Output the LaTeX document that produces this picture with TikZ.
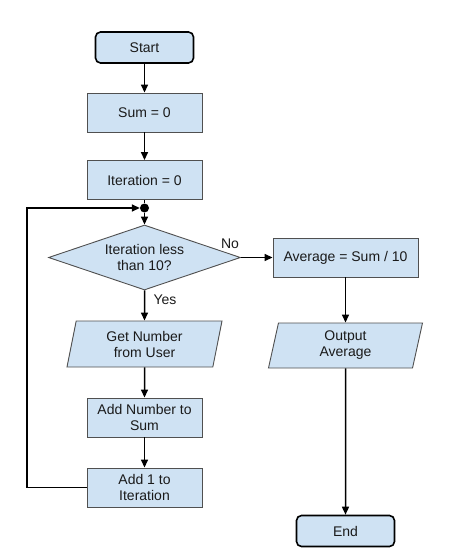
\documentclass[tikz,border=0pt]{standalone}
\usepackage{fontspec}
\setmainfont{Liberation Sans}
\usetikzlibrary{shapes.geometric,arrows.meta}
\definecolor{boxfill}{HTML}{CFE2F3}
\definecolor{boxline}{HTML}{505050}
\definecolor{txt}{HTML}{1A1A1A}
\begin{document}
\begin{tikzpicture}[x=1pt,y=-1pt,
  font=\fontsize{14}{16}\selectfont, text=txt,
  proc/.style={draw=boxline, fill=boxfill, minimum width=115pt, minimum height=39pt, inner sep=1pt, align=center, line width=0.9pt},
  term/.style={draw=black, fill=boxfill, rounded corners=5pt, line width=1.6pt, minimum width=98pt, minimum height=31pt, inner sep=1pt},
  io/.style={trapezium, trapezium left angle=72, trapezium right angle=108, trapezium stretches body, draw=boxline, fill=boxfill, minimum width=155pt, minimum height=46pt, inner sep=1pt, align=center, line width=0.9pt},
  dec/.style={diamond, aspect=2.95, draw=boxline, fill=boxfill, minimum width=192pt, minimum height=65pt, inner sep=0pt, align=center, line width=0.9pt},
  flow/.style={-{Triangle[length=8pt,width=7pt]}, line width=1.5pt, draw=black},
  plainline/.style={line width=1.5pt, draw=black}]
\useasboundingbox (0,0) rectangle (474,554);
\node[term] (start) at (144.5,47.5) {Start};
\node[proc] (sum) at (144.5,112.5) {Sum = 0};
\node[proc] (iter) at (144.5,180) {Iteration = 0};
\node[circle, fill=black, inner sep=0pt, minimum size=9pt] (dot) at (144.5,208) {};
\node[dec] (dec) at (144.5,257.5) {Iteration less\\than 10?};
\node[io] (get) at (144.5,344) {Get Number\\from User};
\node[proc] (addnum) at (144.5,417.5) {Add Number to\\Sum};
\node[proc] (addone) at (144.5,487.5) {Add 1 to\\Iteration};
\node[proc, minimum width=145pt] (avg) at (345.5,257.5) {Average = Sum / 10};
\node[io, minimum width=154pt, minimum height=45pt] (out) at (345.5,345.5) {Output\\Average};
\node[term] (end) at (345.5,531) {End};
\node (no) at (230,244) {No};
\node (yes) at (165,300) {Yes};
\coordinate (lb) at (27,487.5);
\coordinate (lt) at (27,208);
\draw[flow] (start) -- (sum);
\draw[flow] (sum) -- (iter);
\draw[plainline] (iter) -- (dot);
\draw[flow] (dot) -- (dec);
\draw[flow] (dec) -- (get);
\draw[flow] (get) -- (addnum);
\draw[flow] (addnum) -- (addone);
\draw[flow] (addone.west) -- (lb) -- (lt) -- (dot.west);
\draw[flow] (dec.east) -- (avg.west);
\draw[flow] (avg) -- (out);
\draw[flow] (out) -- (end);
\end{tikzpicture}
\end{document}
